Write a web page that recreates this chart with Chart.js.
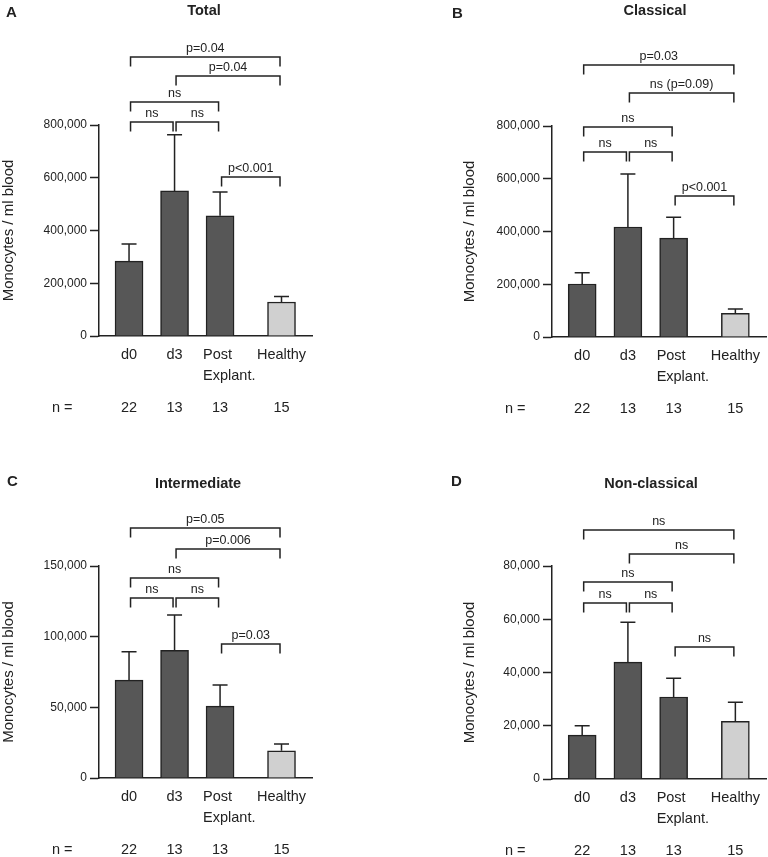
<!DOCTYPE html>
<html>
<head>
<meta charset="utf-8">
<script src="https://cdn.jsdelivr.net/npm/chart.js@4/dist/chart.umd.min.js"></script>
<style>
  body { margin: 0; background: #fff; width: 768px; height: 857px; position: relative; overflow: hidden; }
  canvas { position: absolute; }
</style>
</head>
<body>
<canvas id="cA" width="384" height="420" style="left:0;top:0"></canvas>
<canvas id="cB" width="384" height="420" style="left:384px;top:0"></canvas>
<canvas id="cC" width="384" height="437" style="left:0;top:420px"></canvas>
<canvas id="cD" width="384" height="437" style="left:384px;top:420px"></canvas>
<script>
'use strict';

// groups shared by all four panels
var groupLabels = ['d0', 'd3', 'Post\nExplant.', 'Healthy'];
var groupN = [22, 13, 13, 15];
var groupX = [1, 2, 3, 4.35];

// mean and upper error per group
var totalMean = [284000, 550000, 456000, 129000];
var totalErr = [65000, 213000, 90000, 21000];
var classicalMean = [201000, 417000, 375000, 90000];
var classicalErr = [43000, 201000, 79000, 16000];
var intermediateMean = [69300, 90300, 50900, 19300];
var intermediateErr = [20100, 25000, 14900, 4700];
var nonClassicalMean = [16500, 43900, 30800, 21700];
var nonClassicalErr = [3500, 15000, 7000, 7100];

// y axis ticks: max and step
var yMax = [800000, 800000, 150000, 80000];
var yStep = [200000, 200000, 50000, 20000];

// comparisons: [from group, to group, level (y value), label]
var totalBrackets = [[0, 1, 811000, 'ns'], [1, 2, 811000, 'ns'], [0, 2, 887000, 'ns'],
  [1, 3, 986000, 'p=0.04'], [0, 3, 1058000, 'p=0.04'], [2, 3, 603000, 'p<0.001']];
var classicalBrackets = [[0, 1, 702000, 'ns'], [1, 2, 702000, 'ns'], [0, 2, 795000, 'ns'],
  [1, 3, 925000, 'ns (p=0.09)'], [0, 3, 1031000, 'p=0.03'], [2, 3, 533000, 'p<0.001']];
var intermediateBrackets = [[0, 1, 127600, 'ns'], [1, 2, 127600, 'ns'], [0, 2, 141700, 'ns'],
  [1, 3, 162200, 'p=0.006'], [0, 3, 176900, 'p=0.05'], [2, 3, 94600, 'p=0.03']];
var nonClassicalBrackets = [[0, 1, 66200, 'ns'], [1, 2, 66200, 'ns'], [0, 2, 73900, 'ns'],
  [1, 3, 84600, 'ns'], [0, 3, 93400, 'ns'], [2, 3, 49700, 'ns']];

var FONT = 'Arial, "Liberation Sans", Helvetica, sans-serif';
var INK = '#222';
Chart.defaults.font.family = FONT;
Chart.defaults.color = INK;

var panels = [
  { id: 'cA', letter: 'A', title: 'Total', mean: totalMean, err: totalErr, brackets: totalBrackets, k: 0,
    box: { left: 99, right: 72, top: 125, bottom: 84, titlePad: 0, letterX: 6, letterY: 17, titleX: 204, titleY: 15 } },
  { id: 'cB', letter: 'B', title: 'Classical', mean: classicalMean, err: classicalErr, brackets: classicalBrackets, k: 1,
    box: { left: 168, right: 2, top: 126, bottom: 83, titlePad: 77, letterX: 68, letterY: 18, titleX: 271, titleY: 15 } },
  { id: 'cC', letter: 'C', title: 'Intermediate', mean: intermediateMean, err: intermediateErr, brackets: intermediateBrackets, k: 2,
    box: { left: 99, right: 72, top: 146, bottom: 79, titlePad: 0, letterX: 7, letterY: 66, titleX: 198, titleY: 68 } },
  { id: 'cD', letter: 'D', title: 'Non-classical', mean: nonClassicalMean, err: nonClassicalErr, brackets: nonClassicalBrackets, k: 3,
    box: { left: 168, right: 2, top: 146, bottom: 78, titlePad: 77, letterX: 67, letterY: 66, titleX: 267, titleY: 68 } }
];

function makeAnnotations(p) {
  return {
    id: 'annot' + p.letter,
    afterDatasetsDraw: function (chart) {
      var x = chart.scales.x, y = chart.scales.y, ctx = chart.ctx;
      ctx.save();
      ctx.strokeStyle = INK;
      ctx.lineWidth = 1.5;
      // error bars, upper side only
      p.mean.forEach(function (m, i) {
        var px = x.getPixelForValue(groupX[i]);
        var y0 = y.getPixelForValue(m), y1 = y.getPixelForValue(m + p.err[i]);
        ctx.beginPath();
        ctx.moveTo(px, y0);
        ctx.lineTo(px, y1);
        ctx.moveTo(px - 7.5, y1);
        ctx.lineTo(px + 7.5, y1);
        ctx.stroke();
      });
      ctx.restore();
    },
    afterDraw: function (chart) {
      var x = chart.scales.x, y = chart.scales.y, ctx = chart.ctx;
      ctx.save();
      ctx.strokeStyle = INK;
      ctx.fillStyle = INK;
      ctx.lineWidth = 1.5;

      // significance brackets
      ctx.font = '12.5px ' + FONT;
      ctx.textAlign = 'center';
      ctx.textBaseline = 'alphabetic';
      p.brackets.forEach(function (b) {
        var x1 = x.getPixelForValue(groupX[b[0]]) + 1.5;
        var x2 = x.getPixelForValue(groupX[b[1]]) - 1.5;
        var yy = Math.round(y.getPixelForValue(b[2]));
        ctx.beginPath();
        ctx.moveTo(x1, yy + 9.5);
        ctx.lineTo(x1, yy);
        ctx.lineTo(x2, yy);
        ctx.lineTo(x2, yy + 9.5);
        ctx.stroke();
        ctx.fillText(b[3], (x1 + x2) / 2, yy - 5);
      });

      // group labels and n row
      ctx.font = '14.5px ' + FONT;
      var base = y.bottom;
      groupLabels.forEach(function (lab, i) {
        var px = x.getPixelForValue(groupX[i]);
        var lines = lab.split('\n');
        ctx.textAlign = lines.length > 1 ? 'left' : 'center';
        var lx = lines.length > 1 ? px - 17 : px;
        lines.forEach(function (t, j) {
          ctx.fillText(t, lx, base + 23 + j * 21);
        });
        ctx.textAlign = 'center';
        ctx.fillText(String(groupN[i]), px, base + 76);
      });
      ctx.textAlign = 'left';
      ctx.fillText('n =', x.left - 47, base + 76);

      // panel letter and title
      ctx.font = 'bold 15px ' + FONT;
      ctx.fillText(p.letter, p.box.letterX, p.box.letterY);
      ctx.font = 'bold 14.5px ' + FONT;
      ctx.textAlign = 'center';
      ctx.fillText(p.title, p.box.titleX, p.box.titleY);
      ctx.restore();
    }
  };
}

panels.forEach(function (p) {
  var canvas = document.getElementById(p.id);
  var bx = p.box;
  new Chart(canvas, {
    type: 'bar',
    data: {
      datasets: [{
        data: p.mean.map(function (m, i) { return { x: groupX[i], y: m }; }),
        backgroundColor: ['#575757', '#575757', '#575757', '#d0d0d0'],
        borderColor: INK,
        borderWidth: 1.5,
        borderSkipped: 'bottom',
        barThickness: 28
      }]
    },
    options: {
      responsive: false,
      animation: false,
      events: [],
      layout: { padding: { left: 0, right: bx.right, top: bx.top, bottom: bx.bottom } },
      plugins: { legend: { display: false }, tooltip: { enabled: false }, title: { display: false } },
      scales: {
        x: {
          type: 'linear',
          min: 0.34,
          max: 5.02,
          offset: false,
          grid: { display: false, offset: false },
          ticks: { display: false },
          border: { display: true, color: INK, width: 1.5 },
          afterFit: function (s) { s.height = 0; }
        },
        y: {
          min: 0,
          max: yMax[p.k],
          ticks: {
            stepSize: yStep[p.k],
            padding: 3,
            color: INK,
            font: { size: 12 },
            callback: function (v) { return v.toLocaleString('en-US'); }
          },
          grid: { drawOnChartArea: false, tickLength: 9, tickColor: INK, tickWidth: 1.5 },
          border: { display: true, color: INK, width: 1.5 },
          title: {
            display: true,
            text: 'Monocytes / ml blood',
            color: INK,
            font: { size: 15 },
            padding: { top: bx.titlePad, bottom: 0 }
          },
          afterFit: function (s) { s.width = bx.left; }
        }
      }
    },
    plugins: [makeAnnotations(p)]
  });
});
</script>
</body>
</html>
